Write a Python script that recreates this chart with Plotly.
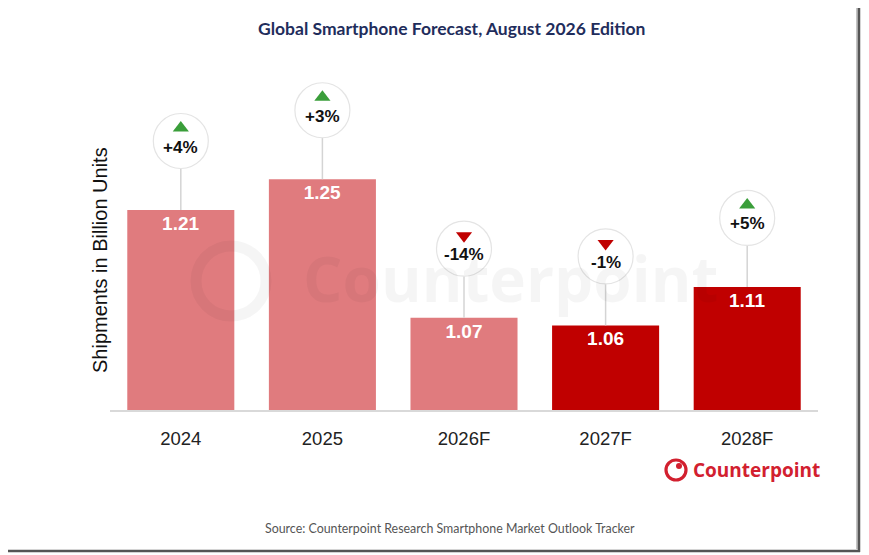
import plotly.graph_objects as go

years = ['2024', '2025', '2026F', '2027F', '2028F']
shipments = [1.21, 1.25, 1.07, 1.06, 1.11]
growth = ['+4%', '+3%', '-14%', '-1%', '+5%']
direction = ['up', 'up', 'down', 'down', 'up']
bar_colors = ['#E07B7E', '#E07B7E', '#E07B7E', '#C00000', '#C00000']

# page body has an 8px margin, so the figure is drawn 8px smaller
PAGE_OFF = 8
W, H = 869 - PAGE_OFF, 555 - PAGE_OFF
PLOT_L, PLOT_R, PLOT_B = 110, 818, 410   # plot area in screen pixels
M_L, M_R, M_T, M_B = PLOT_L - PAGE_OFF, 869 - PLOT_R, 60 - PAGE_OFF, 555 - PLOT_B
Y_MIN, Y_MAX = 0.95, 1.405
plot_h = H - M_T - M_B
px_per_unit = plot_h / (Y_MAX - Y_MIN)

bubble_gap = 69 / px_per_unit   # bar top -> bubble centre
bubble_r = 27 / px_per_unit
arrow_gap = 13 / px_per_unit    # bubble centre -> arrow

# category slots (years look numeric, so place them by index)
xpos = list(range(len(years)))


def px_x(p):
    return (p - PLOT_L) / (PLOT_R - PLOT_L)


def px_y(p):
    return (PLOT_B - p) / plot_h


fig = go.Figure()

fig.add_trace(go.Bar(
    x=xpos,
    y=shipments,
    base=0,
    marker=dict(color=bar_colors, line=dict(width=0)),
    text=[f'{v:.2f}' for v in shipments],
    textposition='inside',
    insidetextanchor='end',
    textfont=dict(family='Arial', size=19, color='white', weight='bold'),
    hoverinfo='skip',
    showlegend=False,
))

# leader lines from bar top to bubble
for xi, v in zip(xpos, shipments):
    fig.add_trace(go.Scatter(
        x=[xi, xi], y=[v, v + bubble_gap - bubble_r],
        mode='lines', line=dict(color='#d4d4d4', width=1.5),
        hoverinfo='skip', showlegend=False,
    ))

# bubbles
fig.add_trace(go.Scatter(
    x=xpos,
    y=[v + bubble_gap for v in shipments],
    mode='markers',
    marker=dict(size=55, color='white', line=dict(color='#e4e4e4', width=1.2)),
    hoverinfo='skip', showlegend=False,
))

# up / down arrows
fig.add_trace(go.Scatter(
    x=xpos,
    y=[v + bubble_gap + arrow_gap for v in shipments],
    mode='markers',
    marker=dict(
        size=14,
        symbol=['triangle-up' if d == 'up' else 'triangle-down' for d in direction],
        color=['#3A9E3A' if d == 'up' else '#C00000' for d in direction],
        line=dict(width=0),
    ),
    hoverinfo='skip', showlegend=False,
))

for xi, v, g in zip(xpos, shipments, growth):
    fig.add_annotation(
        x=xi, y=v + bubble_gap, yshift=-6, text=f'<b>{g}</b>', showarrow=False,
        font=dict(family='Arial', size=17, color='#111111'),
    )

# watermark
fig.add_shape(
    type='circle', xref='paper', yref='paper', layer='above',
    x0=px_x(196), x1=px_x(266), y0=px_y(316), y1=px_y(246),
    line=dict(color='rgba(0,0,0,0.04)', width=11),
)
fig.add_annotation(
    xref='paper', yref='paper', x=px_x(510), y=px_y(278),
    xanchor='center', yanchor='middle',
    text='<b>Counterpoint</b>', showarrow=False,
    font=dict(family='Open Sans', size=62, color='rgba(0,0,0,0.04)'),
)

# y-axis title
fig.add_annotation(
    xref='paper', yref='paper', x=px_x(100), y=px_y(260),
    xanchor='center', yanchor='middle',
    text='Shipments in Billion Units', textangle=-90, showarrow=False,
    font=dict(family='Arial', size=20, color='#111111'),
)

# title
fig.add_annotation(
    xref='paper', yref='paper', x=px_x(451), y=px_y(28),
    xanchor='center', yanchor='middle',
    text='<b>Global Smartphone Forecast, August 2026 Edition</b>', showarrow=False,
    font=dict(family='Lato', size=17.5, color='#1F2D5C'),
)

# source
fig.add_annotation(
    xref='paper', yref='paper', x=px_x(450), y=px_y(528),
    xanchor='center', yanchor='middle',
    text='Source: Counterpoint Research Smartphone Market Outlook Tracker',
    showarrow=False, font=dict(family='Lato', size=12.4, color='#555555'),
)

# counterpoint logo
fig.add_shape(type='circle', xref='paper', yref='paper',
              x0=px_x(666), x1=px_x(686), y0=px_y(480), y1=px_y(460),
              line=dict(color='#D2202F', width=3.2))
fig.add_shape(type='circle', xref='paper', yref='paper',
              x0=px_x(676), x1=px_x(682), y0=px_y(469), y1=px_y(463),
              fillcolor='#D2202F', line=dict(color='#D2202F', width=0))
fig.add_annotation(
    xref='paper', yref='paper', x=px_x(691), y=px_y(470),
    xanchor='left', yanchor='middle',
    text='<b>Counterpoint</b>', showarrow=False,
    font=dict(family='Open Sans', size=19, color='#D2202F'),
)

# frame: right and bottom edges with a soft shadow
fig.add_shape(type='line', xref='paper', yref='paper',
              x0=px_x(857), x1=px_x(857), y0=px_y(2), y1=px_y(549),
              line=dict(color='#c4c4c4', width=2))
fig.add_shape(type='line', xref='paper', yref='paper',
              x0=px_x(859), x1=px_x(859), y0=px_y(0), y1=px_y(552),
              line=dict(color='#555555', width=2.5))
fig.add_shape(type='line', xref='paper', yref='paper',
              x0=px_x(0), x1=px_x(860), y0=px_y(551), y1=px_y(551),
              line=dict(color='#555555', width=2.5))

fig.update_layout(
    width=W, height=H,
    margin=dict(l=M_L, r=M_R, t=M_T, b=M_B),
    paper_bgcolor='white', plot_bgcolor='white',
    bargap=0.244,
    xaxis=dict(
        range=[-0.5, len(years) - 0.5],
        tickmode='array', tickvals=xpos, ticktext=years,
        showline=True, linecolor='#d9d9d9', linewidth=1.5,
        showgrid=False, zeroline=False, ticks='', ticklabelstandoff=11,
        tickfont=dict(family='Arial', size=18.5, color='#222222'),
        fixedrange=True,
    ),
    yaxis=dict(
        range=[Y_MIN, Y_MAX], visible=False, showgrid=False, zeroline=False,
        fixedrange=True,
    ),
)

fig.write_html('out.html')
